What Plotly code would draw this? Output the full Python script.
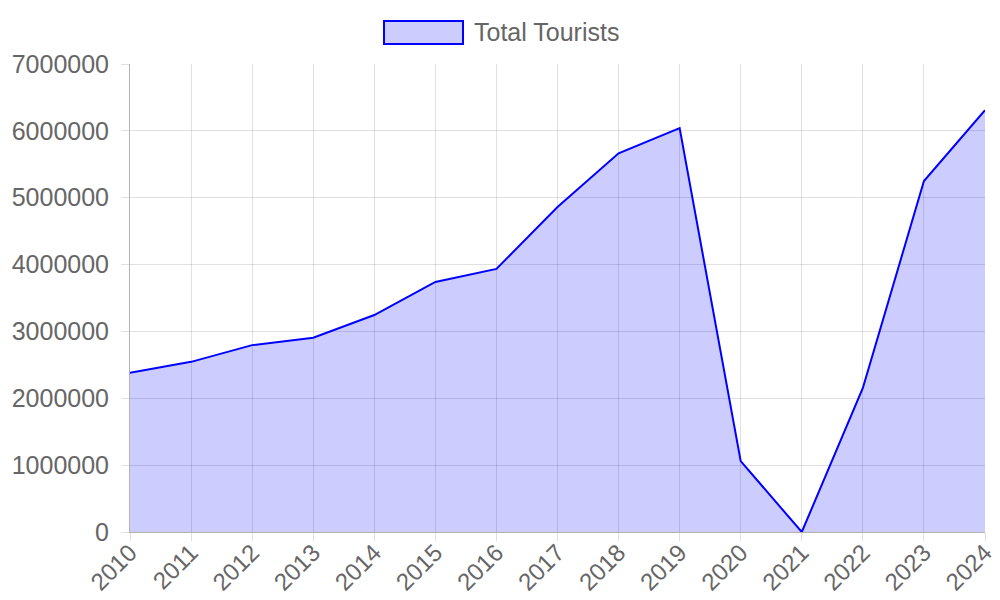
import plotly.graph_objects as go

years = [2010, 2011, 2012, 2013, 2014, 2015, 2016, 2017, 2018, 2019, 2020, 2021, 2022, 2023, 2024]
tourists = [2380000, 2545000, 2795000, 2905000, 3245000, 3740000, 3935000, 4860000, 5665000, 6040000,
            1060000, 0, 2155000, 5250000, 6310000]
series_name = "Total Tourists"
y_ticks = [0, 1000000, 2000000, 3000000, 4000000, 5000000, 6000000, 7000000]

FONT = "Liberation Sans, Arial, sans-serif"
GRID = "rgba(0,0,0,0.12)"
FS = 25

fig = go.Figure()
fig.add_trace(go.Scatter(
    x=years, y=tourists, mode="lines", name=series_name,
    line=dict(color="rgb(0,0,255)", width=2),
    fill="tozeroy", fillcolor="rgba(0,0,255,0.2)",
    showlegend=False, hoverinfo="x+y",
))

fig.update_layout(
    width=992, height=592,
    margin=dict(l=122, r=15, t=56, b=68, autoexpand=False),
    paper_bgcolor="white", plot_bgcolor="white",
    font=dict(family=FONT, size=FS, color="#666"),
    xaxis=dict(
        range=[years[0], years[-1]], tickvals=years, ticktext=[str(y) for y in years],
        tickangle=-45, showgrid=True, gridcolor=GRID, gridwidth=1,
        ticks="outside", ticklen=8, tickcolor=GRID, automargin=False,
        ticklabelstandoff=-12,
        showline=True, linecolor="rgba(0,0,0,0.3)", linewidth=1,
        zeroline=False, tickfont=dict(size=24, color="#666"),
    ),
    yaxis=dict(
        range=[0, 7000000], tickvals=y_ticks, ticktext=[str(v) for v in y_ticks],
        showgrid=True, gridcolor=GRID, gridwidth=1,
        ticks="outside", ticklen=8, tickcolor=GRID, automargin=False,
        ticklabelstandoff=7,
        showline=True, linecolor="rgba(0,0,0,0.3)", linewidth=1,
        zeroline=False, tickfont=dict(size=FS, color="#666"),
    ),
)

# Legend drawn manually (Chart.js style box)
fig.add_shape(type="rect", xref="paper", yref="paper",
              x0=(384 - 130) / 855, x1=(463 - 130) / 855,
              y0=(532 - 44) / 468, y1=(532 - 21) / 468,
              line=dict(color="rgb(0,0,255)", width=2), fillcolor="rgba(0,0,255,0.2)")
fig.add_annotation(xref="paper", yref="paper", x=(472 - 130) / 855, y=(532 - 32) / 468,
                   text=series_name, showarrow=False, xanchor="left", yanchor="middle",
                   font=dict(family=FONT, size=FS, color="#666"))

fig.write_html("out.html")
